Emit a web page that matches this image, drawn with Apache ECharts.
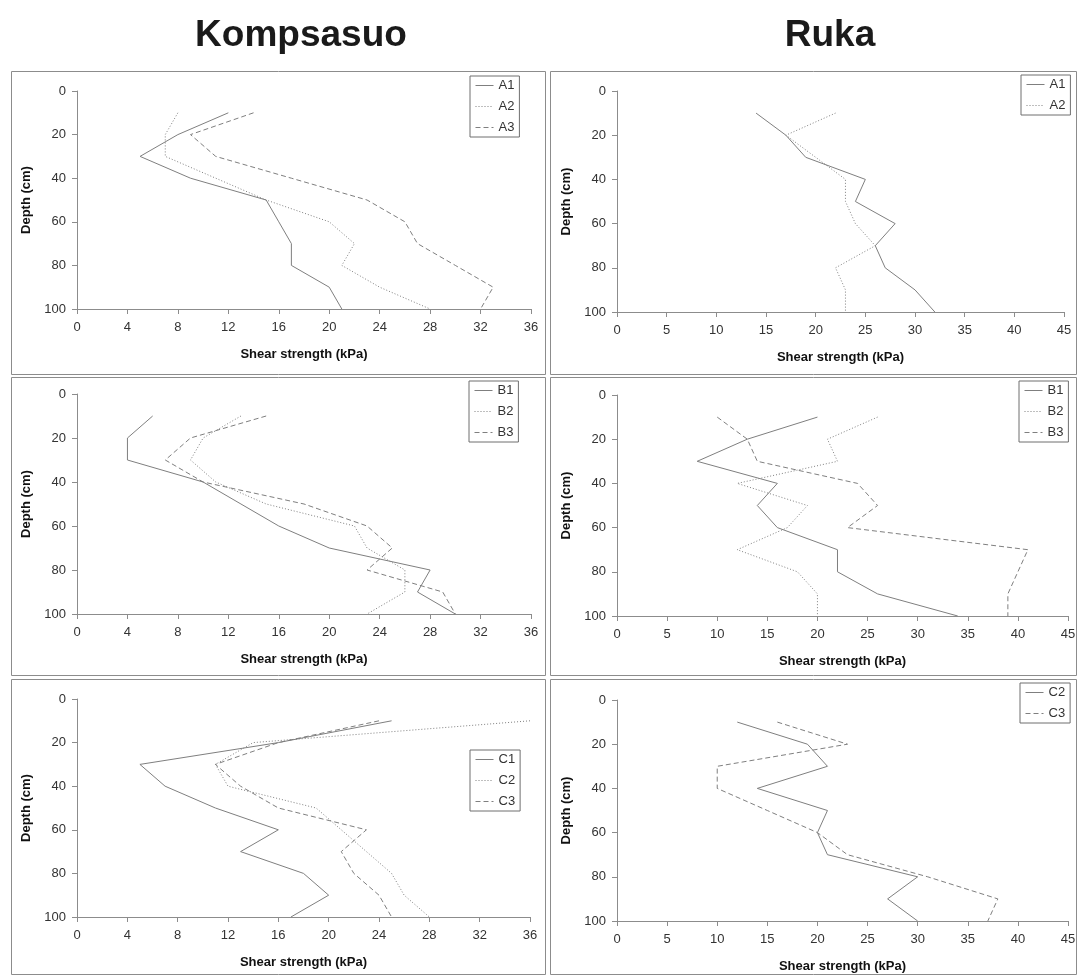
<!DOCTYPE html>
<html>
<head>
<meta charset="utf-8">
<script src="https://cdn.jsdelivr.net/npm/echarts@6/dist/echarts.min.js"></script>
<style>
html,body{margin:0;padding:0;background:#fff;}
#chart{width:1081px;height:976px;}
</style>
</head>
<body>
<div id="chart"></div>
<script>
// ---------- data ----------
const depths = [10, 20, 30, 40, 50, 60, 70, 80, 90, 100];
const depthTicks = [0, 20, 40, 60, 80, 100];

const siteTitles = ['Kompsasuo', 'Ruka'];
const xAxisName = 'Shear strength (kPa)';
const yAxisName = 'Depth (cm)';

// Kompsasuo A
const kompA1 = [12, 8, 5, 9, 15, 16, 17, 17, 20, 21];
const kompA2 = [8, 7, 7, 11, 15, 20, 22, 21, 24, 28];
const kompA3 = [14, 9, 11, 17, 23, 26, 27, 30, 33, 32];
// Ruka A
const rukaA1 = [14, 17, 19, 25, 24, 28, 26, 27, 30, 32];
const rukaA2 = [22, 17, 20, 23, 23, 24, 26, 22, 23, 23];
// Kompsasuo B
const kompB1 = [6, 4, 4, 10, 13, 16, 20, 28, 27, 30];
const kompB2 = [13, 10, 9, 11, 15, 22, 23, 26, 26, 23];
const kompB3 = [15, 9, 7, 10, 18, 23, 25, 23, 29, 30];
// Ruka B
const rukaB1 = [20, 13, 8, 16, 14, 16, 22, 22, 26, 34];
const rukaB2 = [26, 21, 22, 12, 19, 17, 12, 18, 20, 20];
const rukaB3 = [10, 13, 14, 24, 26, 23, 41, 40, 39, 39];
// Kompsasuo C
const kompC1 = [25, 16, 5, 7, 11, 16, 13, 18, 20, 17];
const kompC2 = [36, 14, 11, 12, 19, 21, 23, 25, 26, 28];
const kompC3 = [24, 16, 11, 13, 16, 23, 21, 22, 24, 25];
// Ruka C
const rukaC2 = [12, 19, 21, 14, 21, 20, 21, 30, 27, 30];
const rukaC3 = [16, 23, 10, 10, 15, 20, 23, 31, 38, 37];

// ---------- layout / style ----------
const LINE = '#7f7f7f';
const AXIS = '#8c8c8c';
const FONT = '"Liberation Sans", Arial, Helvetica, sans-serif';
const DASH = {solid: 'solid', dotted: [1, 2], dashed: [5, 3]};

const panels = [
  {grid: {left: 77, top: 91, width: 454, height: 218}, xMax: 36, xInt: 4,
   frame: [11, 71, 534, 303], legend: {left: 470, top: 76},
   series: [['K-A1', kompA1, 'solid'], ['K-A2', kompA2, 'dotted'], ['K-A3', kompA3, 'dashed']]},
  {grid: {left: 617, top: 91, width: 447, height: 221}, xMax: 45, xInt: 5,
   frame: [550, 71, 526, 303], legend: {left: 1021, top: 75},
   series: [['R-A1', rukaA1, 'solid'], ['R-A2', rukaA2, 'dotted']]},
  {grid: {left: 77, top: 394, width: 454, height: 220}, xMax: 36, xInt: 4,
   frame: [11, 377, 534, 298], legend: {left: 469, top: 381},
   series: [['K-B1', kompB1, 'solid'], ['K-B2', kompB2, 'dotted'], ['K-B3', kompB3, 'dashed']]},
  {grid: {left: 617, top: 395, width: 451, height: 221}, xMax: 45, xInt: 5,
   frame: [550, 377, 526, 298], legend: {left: 1019, top: 381},
   series: [['R-B1', rukaB1, 'solid'], ['R-B2', rukaB2, 'dotted'], ['R-B3', rukaB3, 'dashed']]},
  {grid: {left: 77, top: 699, width: 453, height: 218}, xMax: 36, xInt: 4,
   frame: [11, 679, 534, 295], legend: {left: 470, top: 750},
   series: [['K-C1', kompC1, 'solid'], ['K-C2', kompC2, 'dotted'], ['K-C3', kompC3, 'dashed']]},
  {grid: {left: 617, top: 700, width: 451, height: 221}, xMax: 45, xInt: 5,
   frame: [550, 679, 526, 295], legend: {left: 1020, top: 683},
   series: [['R-C2', rukaC2, 'solid'], ['R-C3', rukaC3, 'dashed']]}
];

const option = {
  backgroundColor: '#fff',
  animation: false,
  textStyle: {fontFamily: FONT},
  grid: [], xAxis: [], yAxis: [], series: [], legend: [],
  graphic: []
};

siteTitles.forEach((t, i) => {
  option.graphic.push({
    type: 'text', x: i === 0 ? 301 : 830, y: 54,
    style: {text: t, font: 'bold 37px ' + FONT, fill: '#1a1a1a',
            textAlign: 'center', textVerticalAlign: 'bottom'}
  });
});

panels.forEach((p, i) => {
  option.graphic.push({
    type: 'rect', silent: true, z: -1,
    shape: {x: p.frame[0] + 0.5, y: p.frame[1] + 0.5, width: p.frame[2], height: p.frame[3]},
    style: {fill: 'none', stroke: AXIS, lineWidth: 1}
  });
  option.grid.push(Object.assign({containLabel: false}, p.grid));
  option.xAxis.push({
    type: 'value', gridIndex: i, min: 0, max: p.xMax, interval: p.xInt,
    position: 'bottom',
    name: xAxisName, nameLocation: 'middle', nameGap: 39,
    nameTextStyle: {fontWeight: 'bold', fontSize: 13, color: '#111', fontFamily: FONT},
    axisLine: {onZero: false, lineStyle: {color: AXIS, width: 1}},
    axisTick: {show: true, inside: false, length: 5, lineStyle: {color: AXIS}},
    axisLabel: {fontSize: 13, color: '#333', margin: 12, fontFamily: FONT},
    splitLine: {show: false}
  });
  option.yAxis.push({
    type: 'value', gridIndex: i, min: 0, max: 100, interval: 20, inverse: true,
    position: 'left',
    name: yAxisName, nameLocation: 'middle', nameGap: 44, nameRotate: 90,
    nameTextStyle: {fontWeight: 'bold', fontSize: 13, color: '#111', fontFamily: FONT},
    axisLine: {show: true, onZero: false, lineStyle: {color: AXIS, width: 1}},
    axisTick: {show: true, inside: false, length: 5, lineStyle: {color: AXIS}},
    axisLabel: {fontSize: 13, color: '#333', margin: 11, fontFamily: FONT},
    splitLine: {show: false}
  });
  const names = [];
  p.series.forEach(([name, vals, style]) => {
    names.push(name);
    option.series.push({
      name: name, type: 'line', xAxisIndex: i, yAxisIndex: i,
      data: vals.map((v, k) => [v, depths[k]]),
      symbol: 'none', smooth: false,
      color: LINE,
      lineStyle: {color: LINE, width: 1, type: DASH[style]},
      itemStyle: {color: LINE}
    });
  });
  option.legend.push({
    data: names, orient: 'vertical', left: p.legend.left, top: p.legend.top,
    formatter: n => n.slice(2),
    itemWidth: 18, itemHeight: 12, itemGap: 8,
    padding: [3, 5],
    borderColor: '#6f6f6f', borderWidth: 1, borderRadius: 0,
    backgroundColor: '#fff',
    itemStyle: {opacity: 0, borderWidth: 0},
    lineStyle: {width: 1},
    textStyle: {fontSize: 13, color: '#333', fontFamily: FONT},
    selectedMode: false
  });
});

const chart = echarts.init(document.getElementById('chart'), null, {renderer: 'canvas'});
chart.setOption(option);
</script>
</body>
</html>
